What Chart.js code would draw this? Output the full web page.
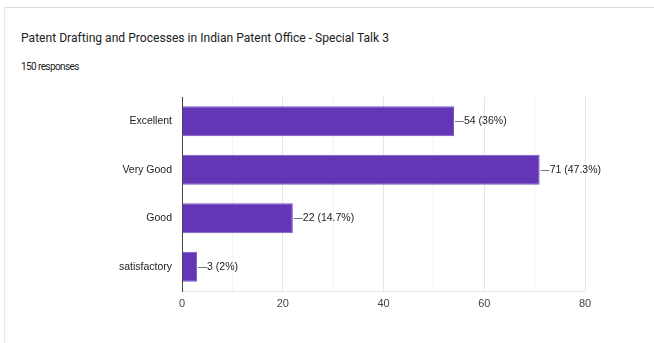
<!doctype html>
<html lang="en">
<head>
    <meta charset="UTF-8" />
    <title>Special Talk 3</title>
    <style>
        body {
            margin: 0;
            background: #fff;
            font-family: Roboto, 'Liberation Sans', sans-serif;
        }
        .card {
            position: absolute;
            left: 4px;
            top: 7px;
            width: 660px;
            height: 350px;
            border-top: 1px solid #dadce0;
            border-left: 1px solid #e8e8e8;
        }
        .title {
            position: absolute;
            left: 21px;
            top: 31px;
            font-size: 12.1px;
            color: #202124;
            white-space: nowrap;
        }
        .sub {
            position: absolute;
            left: 21px;
            top: 61px;
            font-size: 10px;
            letter-spacing: -0.6px;
            color: #202124;
        }
        .chart-box {
            position: absolute;
            left: 0;
            top: 0;
            width: 654px;
            height: 343px;
        }
    </style>
</head>
<body>
    <div class="card"></div>
    <div class="title">Patent Drafting and Processes in Indian Patent Office - Special Talk 3</div>
    <div class="sub">150 responses</div>
    <div class="chart-box">
        <canvas id="talkChart" width="654" height="343"></canvas>
    </div>

    <script src="https://cdn.jsdelivr.net/npm/chart.js"></script>
    <script>
        // values
        const ratings = ['Excellent', 'Very Good', 'Good', 'satisfactory'];
        const counts = [54, 71, 22, 3];
        const shares = ['36%', '47.3%', '14.7%', '2%'];
        const xTicks = [0, 20, 40, 60, 80];

        // value labels with a short leader line at the end of each bar
        const valueLabels = {
            id: 'valueLabels',
            afterDatasetsDraw(chart) {
                const c = chart.ctx;
                const meta = chart.getDatasetMeta(0);
                c.save();
                c.font = '10.5px "Liberation Sans", Arial, sans-serif';
                c.fillStyle = '#222';
                c.strokeStyle = '#777';
                c.lineWidth = 1;
                c.textBaseline = 'middle';
                meta.data.forEach((bar, i) => {
                    const x = bar.x;
                    const y = Math.round(bar.y) + 0.5;
                    c.beginPath();
                    c.moveTo(x + 1, y);
                    c.lineTo(x + 10, y);
                    c.stroke();
                    c.fillText(counts[i] + ' (' + shares[i] + ')', x + 10, y);
                });
                c.restore();
            }
        };

        const ctx = document.getElementById('talkChart').getContext('2d');
        new Chart(ctx, {
            type: 'bar',
            data: {
                labels: ratings,
                datasets: [{
                    data: counts,
                    backgroundColor: '#6236b4',
                    borderColor: '#7c57c8',
                    borderWidth: 1,
                    barPercentage: 0.62,
                    categoryPercentage: 1
                }]
            },
            options: {
                indexAxis: 'y',
                responsive: false,
                animation: false,
                devicePixelRatio: 1,
                layout: { padding: { left: 0, top: 97, right: 69, bottom: 0 } },
                plugins: {
                    legend: { display: false },
                    tooltip: { enabled: false }
                },
                scales: {
                    x: {
                        min: 0,
                        max: 80,
                        ticks: {
                            stepSize: 10,
                            autoSkip: false,
                            maxRotation: 0,
                            padding: 6,
                            color: '#444',
                            font: { family: '"Liberation Sans", Arial, sans-serif', size: 11 },
                            callback: (v) => xTicks.includes(v) ? String(v) : ''
                        },
                        grid: {
                            color: (g) => xTicks.includes(g.tick.value) ? '#e6e6e6' : '#f3f3f3',
                            drawTicks: false
                        },
                        border: { color: '#e6e6e6' },
                        afterFit: (s) => { s.height = 52; }
                    },
                    y: {
                        ticks: {
                            padding: 2,
                            color: '#222',
                            font: { family: '"Liberation Sans", Arial, sans-serif', size: 10.5 }
                        },
                        grid: { display: false },
                        border: { color: '#444' },
                        afterFit: (s) => { s.width = 182; }
                    }
                }
            },
            plugins: [valueLabels]
        });
    </script>
</body>
</html>
